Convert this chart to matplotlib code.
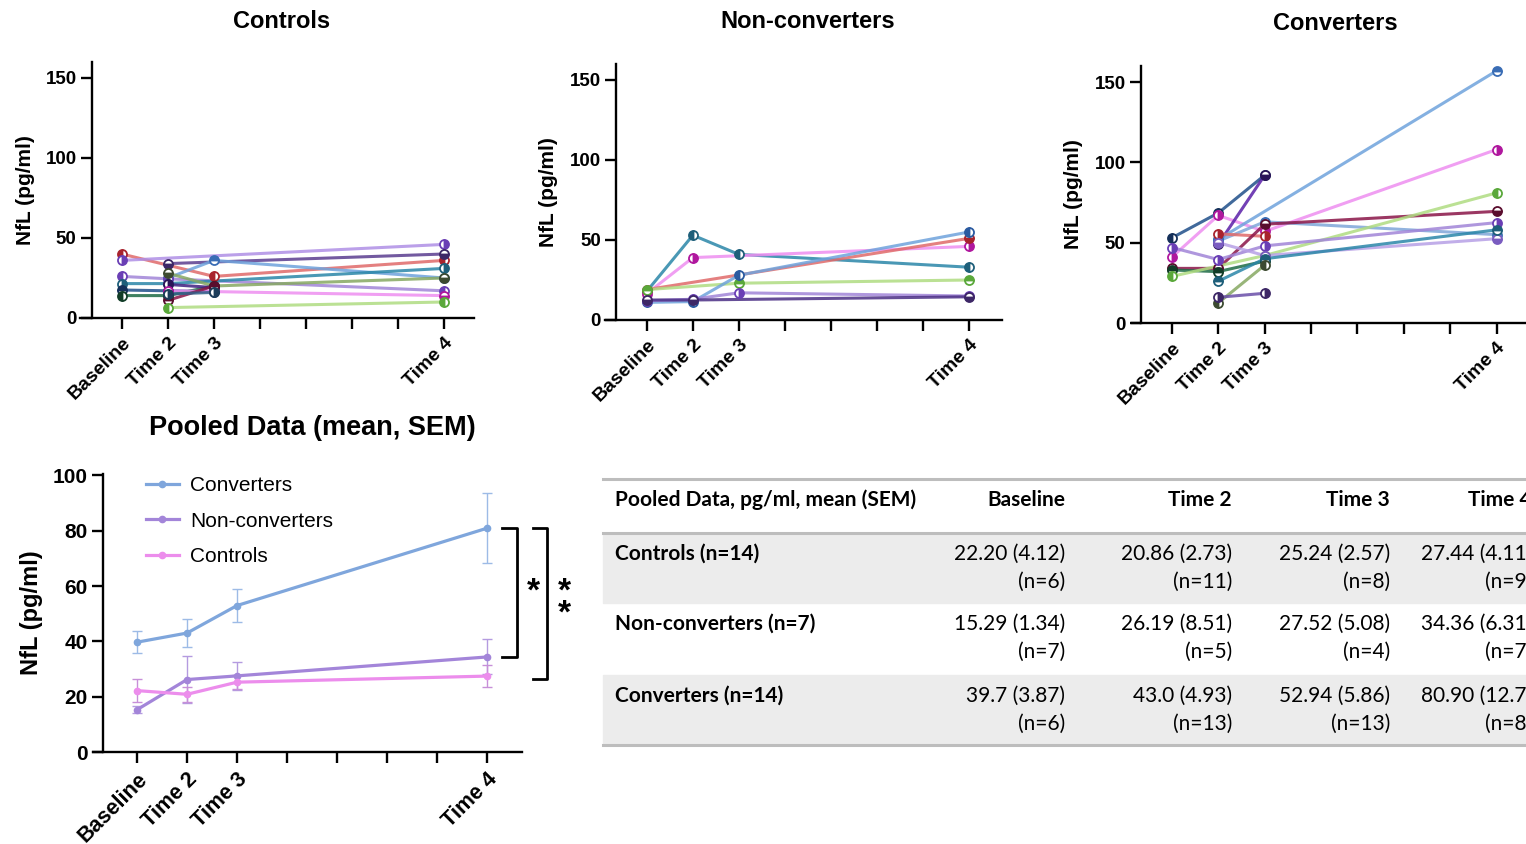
import numpy as np
import matplotlib
matplotlib.use('Agg')
import matplotlib.pyplot as plt
from matplotlib.patches import Rectangle
from matplotlib.lines import Line2D

plt.rcParams['font.family'] = ['Liberation Sans', 'DejaVu Sans']

W, H = 1526, 844
nan = np.nan

# ------------------------------------------------------------
# data
timepoints = ['Baseline', 'Time 2', 'Time 3', 'Time 4']
time_pos = [0, 1, 2, 7]

# individual subjects, values at Baseline / Time 2 / Time 3 / Time 4
controls_vals = [
    [40, nan, 26, 36],
    [36, nan, nan, 46],
    [nan, 34, nan, 40],
    [nan, 25, 36, 25],
    [26, 24.5, nan, 17],
    [21.5, 21.5, nan, 31],
    [nan, 28, 20, 25],
    [17.5, 17, 16.5, nan],
    [14, 14, 20, nan],
    [nan, 21, 19, nan],
    [nan, 17, nan, 14],
    [nan, 11, 20, nan],
    [nan, 6.5, nan, 10],
    [nan, 15, 16, nan],
]
controls_line = ['#e06a6a', '#b08fe6', '#5a3d8f', '#6fa3dc', '#a185d8', '#2a86a8', '#86a862',
                 '#1f4f8a', '#1d6b45', '#3f1f80', '#ee8ef0', '#8a1548', '#b0dc82', '#2f5f86']
controls_mark = ['#a8232d', '#6a3fb5', '#3d2766', '#3a6db5', '#6a3fb5', '#1e5f7a', '#3c4a30',
                 '#15305a', '#123d28', '#2a1458', '#b0179e', '#5a0d2e', '#5aa83a', '#1c3d5a']

nonconv_vals = [
    [18, 53, 41, 33],
    [16.5, 39, nan, 46],
    [19, nan, nan, 51],
    [19, nan, 23, 25],
    [11, 11.5, 28, 55],
    [12, 13, 17, 15],
    [12.5, 12.5, nan, 14.5],
]
nonconv_line = ['#2a86a8', '#ee8ef0', '#e06a6a', '#b0dc82', '#6fa3dc', '#a185d8', '#4b2f85']
nonconv_mark = ['#1e5f7a', '#b0179e', '#a8232d', '#5aa83a', '#2a5aa0', '#6a3fb5', '#3d2766']

conv_vals = [
    [53, 68.5, 92, nan],
    [41, 67, 57, 108],
    [nan, 49, 92, nan],
    [nan, 52, nan, 157],
    [nan, 51, 63, 55],
    [nan, 55.5, 54, nan],
    [34, 34, 61.5, 69.5],
    [33, 32, 38.5, nan],
    [29, nan, 42, 81],
    [47, 39.5, 48, 62.5],
    [nan, 50, 42, 52.5],
    [nan, 26, 40, 58],
    [nan, 12.5, 36, nan],
    [nan, 16, 18.5, nan],
]
conv_line = ['#1f4f8a', '#ee8ef0', '#5a1fa8', '#6fa3dc', '#7fa6d9', '#e06a6a', '#8a1548',
             '#1d6b45', '#b0dc82', '#a185d8', '#b7a0e6', '#2a86a8', '#86a862', '#6a4fa8']
conv_mark = ['#15305a', '#b0179e', '#2a1458', '#3a6db5', '#3a6db5', '#a8232d', '#5a0d2e',
             '#123d28', '#5aa83a', '#6a3fb5', '#7a5cc0', '#1e5f7a', '#3c4a30', '#3d2766']

# pooled means and SEM
pooled_groups = ['Converters', 'Non-converters', 'Controls']
pooled_mean = {
    'Converters': [39.7, 43.0, 52.94, 80.90],
    'Non-converters': [15.29, 26.19, 27.52, 34.36],
    'Controls': [22.20, 20.86, 25.24, 27.44],
}
pooled_sem = {
    'Converters': [3.87, 4.93, 5.86, 12.7],
    'Non-converters': [1.34, 8.51, 5.08, 6.31],
    'Controls': [4.12, 2.73, 2.57, 4.11],
}
pooled_color = {'Converters': '#7fa6dc', 'Non-converters': '#a385d9', 'Controls': '#ec8dec'}
pooled_ecolor = {'Converters': '#9dbbe6', 'Non-converters': '#b49be0', 'Controls': '#c78fd8'}

table_header = ['Pooled Data, pg/ml, mean (SEM)', 'Baseline', 'Time 2', 'Time 3', 'Time 4']
table_rows = ['Controls (n=14)', 'Non-converters (n=7)', 'Converters (n=14)']
table_vals = [
    ['22.20 (4.12)', '20.86 (2.73)', '25.24 (2.57)', '27.44 (4.11)'],
    ['15.29 (1.34)', '26.19 (8.51)', '27.52 (5.08)', '34.36 (6.31)'],
    ['39.7 (3.87)', '43.0 (4.93)', '52.94 (5.86)', '80.90 (12.7)'],
]
table_n = [
    ['(n=6)', '(n=11)', '(n=8)', '(n=9)'],
    ['(n=7)', '(n=5)', '(n=4)', '(n=7)'],
    ['(n=6)', '(n=13)', '(n=13)', '(n=8)'],
]

# ------------------------------------------------------------
fig = plt.figure(figsize=(W / 100, H / 100), dpi=100)


def add_ax(x0, x1, ytop, ybot):
    return fig.add_axes([x0 / W, 1 - ybot / H, (x1 - x0) / W, (ybot - ytop) / H])


def style_ax(ax, xlim, yspine, ylim, yticks, tick_fs, lab_fs, ylab_fs, ylab_x):
    ax.set_xlim(*xlim)
    ax.set_ylim(*ylim)
    for s in ['top', 'right']:
        ax.spines[s].set_visible(False)
    ax.spines['left'].set_position(('data', yspine))
    for s in ['left', 'bottom']:
        ax.spines[s].set_linewidth(1.7)
    ax.set_xticks(range(8))
    labels = ['Baseline', 'Time 2', 'Time 3', '', '', '', '', 'Time 4']
    ax.set_xticklabels(labels, rotation=45, ha='right', rotation_mode='anchor',
                       fontsize=lab_fs, fontweight='bold')
    ax.set_yticks(yticks)
    ax.set_yticklabels([str(t) for t in yticks], fontsize=tick_fs, fontweight='bold')
    ax.tick_params(axis='both', direction='out', length=8, width=1.7, pad=3)
    ax.tick_params(axis='x', pad=4)
    ax.set_ylabel('NfL (pg/ml)', fontsize=ylab_fs, fontweight='bold')
    ax.yaxis.set_label_coords(ylab_x, 0.5)
    ax.patch.set_alpha(0)


def draw_subjects(ax, vals, lcols, mcols):
    fills = ['left', 'right', 'bottom', 'top']
    x = np.array(time_pos, dtype=float)
    for i, row in enumerate(vals):
        y = np.array(row, dtype=float)
        m = ~np.isnan(y)
        ax.plot(x[m], y[m], color=lcols[i], lw=2.2, alpha=0.85, zorder=2, clip_on=False)
        ax.plot(x[m], y[m], ls='none', marker='o', ms=6.5, mec=mcols[i], mew=1.3,
                mfc=mcols[i], fillstyle=fills[i % 4], markerfacecoloralt='white',
                zorder=3, clip_on=False)


# Controls
ax1 = add_ax(80, 474, 62, 318)
draw_subjects(ax1, controls_vals, controls_line, controls_mark)
style_ax(ax1, (-0.91, 7.65), -0.65, (0, 160), [0, 50, 100, 150], 13.5, 14, 15, -0.114)
fig.text(282 / W, 1 - 21 / H, 'Controls', ha='center', va='center', fontsize=17, fontweight='bold')

# Non-converters
ax2 = add_ax(605, 1002, 64, 320)
draw_subjects(ax2, nonconv_vals, nonconv_line, nonconv_mark)
style_ax(ax2, (-0.91, 7.72), -0.67, (0, 160), [0, 50, 100, 150], 13.5, 14, 15, -0.118)
fig.text(808 / W, 1 - 21 / H, 'Non-converters', ha='center', va='center', fontsize=17, fontweight='bold')

# Converters
ax3 = add_ax(1132, 1530, 66, 323)
draw_subjects(ax3, conv_vals, conv_line, conv_mark)
style_ax(ax3, (-0.86, 7.72), -0.67, (0, 160), [0, 50, 100, 150], 13.5, 14, 15, -0.123)
fig.text(1335 / W, 1 - 23 / H, 'Converters', ha='center', va='center', fontsize=17, fontweight='bold')

# Pooled
ax4 = add_ax(93, 522, 474, 752)
for g in pooled_groups:
    ax4.errorbar(time_pos, pooled_mean[g], yerr=pooled_sem[g], color=pooled_color[g],
                 ecolor=pooled_ecolor[g], elinewidth=1, capsize=3.5, capthick=1,
                 marker='o', ms=4.5, lw=2.3, label=g, zorder=3)
style_ax(ax4, (-0.88, 7.7), -0.68, (0, 100.5), [0, 20, 40, 60, 80, 100], 15, 15.5, 17, -0.117)
fig.text(312 / W, 1 - 428 / H, 'Pooled Data (mean, SEM)', ha='center', va='center',
         fontsize=19.5, fontweight='bold')
handles = [Line2D([], [], color=pooled_color[g], lw=2.3, marker='o', ms=4.5) for g in pooled_groups]
ax4.legend(handles, pooled_groups, loc='upper left', bbox_to_anchor=(0.1, 1.03), frameon=False,
           fontsize=15, handlelength=1.55, handletextpad=0.55, labelspacing=0.8, borderpad=0)

# significance brackets
c4, n4, k4 = pooled_mean['Converters'][3], pooled_mean['Non-converters'][3], pooled_mean['Controls'][3]
ax4.plot([7.3, 7.6, 7.6, 7.3], [c4, c4, n4, n4], color='black', lw=2, clip_on=False)
ax4.plot([7.92, 8.2, 8.2, 7.92], [c4, c4, k4 - 1, k4 - 1], color='black', lw=2, clip_on=False)
ax4.text(7.92, 57.8, '*', ha='center', va='center', fontsize=24, fontweight='bold')
ax4.text(8.55, 53.8, '*\n*', ha='center', va='center', fontsize=24, fontweight='bold',
         linespacing=0.6)

# ------------------------------------------------------------
# table
tx0, tx1 = 603, W
fig.patches.append(Rectangle((tx0 / W, 1 - 603 / H), (tx1 - tx0) / W, 70 / H,
                             transform=fig.transFigure, color='#ececec', zorder=0))
fig.patches.append(Rectangle((tx0 / W, 1 - 745 / H), (tx1 - tx0) / W, 70 / H,
                             transform=fig.transFigure, color='#ececec', zorder=0))
for yy, lw in [(479, 2.2), (533, 2.2), (745, 2.2)]:
    fig.add_artist(Line2D([tx0 / W, tx1 / W], [1 - yy / H, 1 - yy / H], color='#bdbdbd',
                          lw=lw, transform=fig.transFigure))

tfont = ['Lato', 'DejaVu Sans']
tfs = 15
col_right = [1065, 1232, 1390, 1532]
fig.text(615 / W, 1 - 500 / H, table_header[0], ha='left', va='center', fontsize=tfs,
         family=tfont, fontweight='bold')
for j, h in enumerate(table_header[1:]):
    fig.text(col_right[j] / W, 1 - 500 / H, h, ha='right', va='center', fontsize=tfs,
             family=tfont, fontweight='bold')
row_y = [554, 624, 696]
for i, r in enumerate(table_rows):
    fig.text(615 / W, 1 - row_y[i] / H, r, ha='left', va='center', fontsize=tfs,
             family=tfont, fontweight='bold')
    for j in range(4):
        fig.text(col_right[j] / W, 1 - row_y[i] / H, table_vals[i][j], ha='right', va='center',
                 fontsize=tfs, family=tfont)
        fig.text(col_right[j] / W, 1 - (row_y[i] + 28) / H, table_n[i][j], ha='right', va='center',
                 fontsize=tfs, family=tfont)

fig.savefig('out.png', dpi=100)
